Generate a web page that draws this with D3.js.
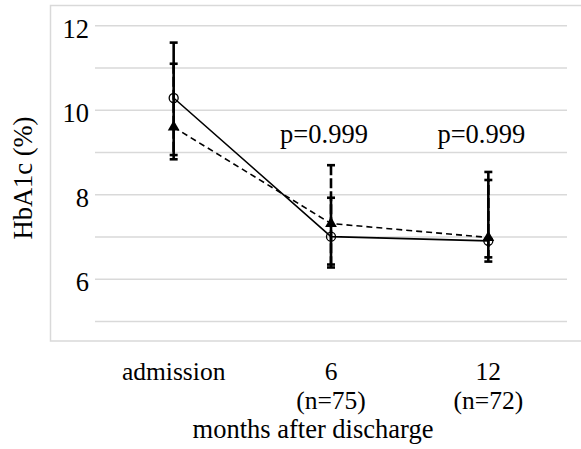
<!DOCTYPE html>
<html>
<head>
<meta charset="utf-8">
<script src="https://cdn.jsdelivr.net/npm/d3@7"></script>
<style>
  body { margin: 0; background: #fff; }
  text { font-family: "Liberation Serif", "Times New Roman", serif; fill: #000; }
</style>
</head>
<body>
<div id="chart"></div>
<script>
const categories = ["admission", "6", "12"];
const subLabels = ["", "(n=75)", "(n=72)"];
const yTicks = [6, 8, 10, 12];
const gridValues = [5, 6, 7, 8, 9, 10, 11, 12];

// solid line, open circles
const solidMean = [10.29, 7.01, 6.91];
const solidUpper = [11.6, 7.93, 8.35];
const solidLower = [8.84, 6.28, 6.42];

// dashed line, filled triangles
const dashMean = [9.6, 7.32, 6.99];
const dashUpper = [11.1, 8.7, 8.54];
const dashLower = [8.94, 6.35, 6.52];

const pCategories = ["6", "12"];
const pLabels = ["p=0.999", "p=0.999"];

const W = 581, H = 449;
const FONT = "'Liberation Serif', 'Times New Roman', serif";
const FS = "26.5px";

const svg = d3.select("#chart").append("svg")
    .attr("width", W)
    .attr("height", H);

// outer frame
svg.append("rect")
    .attr("x", 50.5).attr("y", 5.5)
    .attr("width", 540).attr("height", 335.5)
    .attr("fill", "none")
    .attr("stroke", "#d9d9d9")
    .attr("stroke-width", 1.5);

const x = d3.scaleBand().domain(categories).range([95, 567]);
const cx = d => x(d) + x.bandwidth() / 2;
const y = d3.scaleLinear().domain([5, 12]).range([321.6, 25.7]);

// gridlines
svg.append("g").selectAll("line")
    .data(gridValues)
    .join("line")
    .attr("x1", 95).attr("x2", 567)
    .attr("y1", d => y(d)).attr("y2", d => y(d))
    .attr("stroke", "#d9d9d9")
    .attr("stroke-width", 1.5);

// y axis labels
const yAxis = svg.append("g")
    .attr("transform", "translate(95,3)")
    .call(d3.axisLeft(y).tickValues(yTicks).tickSize(0).tickPadding(6).tickFormat(d3.format("d")));
yAxis.select(".domain").remove();
yAxis.attr("font-family", FONT);
yAxis.selectAll("text")
    .style("font-family", FONT)
    .style("font-size", FS)
    .attr("fill", "#000");

// x axis labels, group size on a second line
const xAxis = svg.append("g")
    .attr("transform", "translate(0,360)")
    .call(d3.axisBottom(x).tickSize(0).tickPadding(0));
xAxis.select(".domain").remove();
xAxis.attr("font-family", FONT);
xAxis.selectAll(".tick text")
    .style("font-family", FONT)
    .style("font-size", "25.5px")
    .attr("fill", "#000")
    .attr("dy", "0.8em")
    .each(function(d) {
        const sub = subLabels[categories.indexOf(d)];
        if (!sub) return;
        const t = d3.select(this).text(null);
        t.append("tspan").attr("x", 0).text(d);
        t.append("tspan").attr("x", 0).attr("dy", 28.5).text(sub);
    });

svg.append("text")
    .attr("x", 313).attr("y", 438)
    .attr("text-anchor", "middle")
    .style("font-family", FONT)
    .style("font-size", FS)
    .text("months after discharge");

svg.append("text")
    .attr("transform", "translate(32,178) rotate(-90)")
    .attr("text-anchor", "middle")
    .style("font-family", FONT)
    .style("font-size", FS)
    .text("HbA1c (%)");

// p values
svg.append("g").selectAll("text")
    .data(pCategories.map((c, i) => ({c, t: pLabels[i]})))
    .join("text")
    .attr("x", d => cx(d.c) - 7)
    .attr("y", y(9.22))
    .attr("text-anchor", "middle")
    .style("font-family", FONT)
    .style("font-size", FS)
    .text(d => d.t);

const capW = 8;
function errorBars(mean, upper, lower, dash) {
    const g = svg.append("g");
    const data = categories.map((c, i) => ({c, m: mean[i], u: upper[i], l: lower[i]}));
    g.selectAll("line.bar")
        .data(data)
        .join("line")
        .attr("class", "bar")
        .attr("x1", d => cx(d.c)).attr("x2", d => cx(d.c))
        .attr("y1", d => y(d.u)).attr("y2", d => y(d.l))
        .attr("stroke", "#000")
        .attr("stroke-width", 2.6)
        .attr("stroke-dasharray", dash);
    ["u", "l"].forEach(k => {
        g.selectAll("line.cap" + k)
            .data(data)
            .join("line")
            .attr("class", "cap" + k)
            .attr("x1", d => cx(d.c) - capW / 2).attr("x2", d => cx(d.c) + capW / 2)
            .attr("y1", d => y(d[k])).attr("y2", d => y(d[k]))
            .attr("stroke", "#000")
            .attr("stroke-width", 2.6);
    });
}
errorBars(solidMean, solidUpper, solidLower, null);
errorBars(dashMean, dashUpper, dashLower, "10,3");

const line = d3.line().x(d => cx(d.c)).y(d => y(d.v));

svg.append("path")
    .datum(categories.map((c, i) => ({c, v: dashMean[i]})))
    .attr("d", line)
    .attr("fill", "none")
    .attr("stroke", "#000")
    .attr("stroke-width", 1.6)
    .attr("stroke-dasharray", "6,4");

svg.append("path")
    .datum(categories.map((c, i) => ({c, v: solidMean[i]})))
    .attr("d", line)
    .attr("fill", "none")
    .attr("stroke", "#000")
    .attr("stroke-width", 1.6);

svg.append("g").selectAll("path")
    .data(categories.map((c, i) => ({c, v: dashMean[i]})))
    .join("path")
    .attr("transform", d => `translate(${cx(d.c)},${y(d.v)})`)
    .attr("d", d3.symbol(d3.symbolTriangle, 60))
    .attr("fill", "#000");

svg.append("g").selectAll("circle")
    .data(categories.map((c, i) => ({c, v: solidMean[i]})))
    .join("circle")
    .attr("cx", d => cx(d.c))
    .attr("cy", d => y(d.v))
    .attr("r", 4.5)
    .attr("fill", "none")
    .attr("stroke", "#000")
    .attr("stroke-width", 1.3);
</script>
</body>
</html>
